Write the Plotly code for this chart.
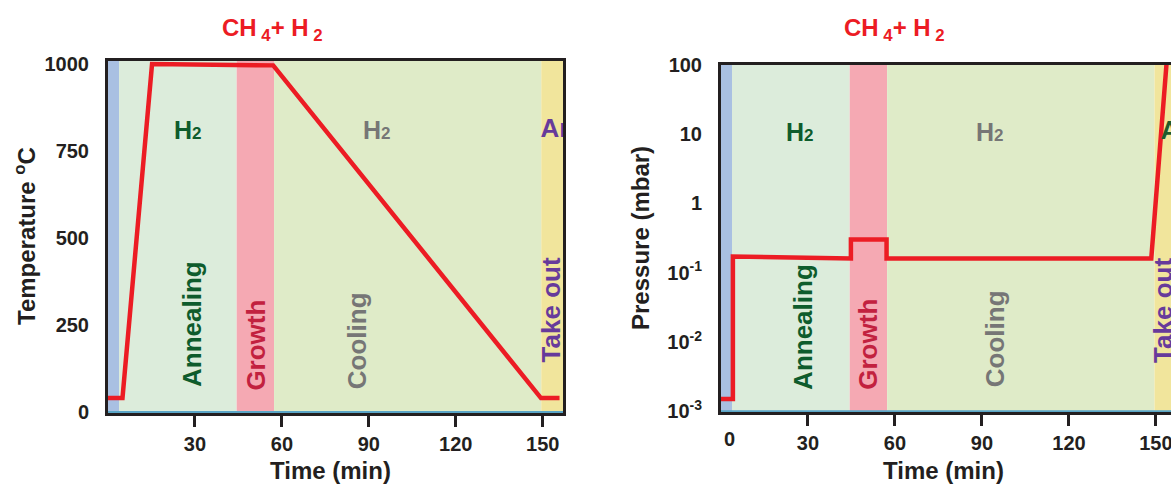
import plotly.graph_objects as go

W, H = 1171, 485

# Process phases (minutes) shared by both panels
phase_edges = [0, 3.8, 44.4, 57.3, 149.5, 170]
phase_fill = ["#a9c0e2", "#dcecdb", "#f5a9b3", "#dfebc8", "#f1e59c"]

phase_names = ["Annealing", "Growth", "Cooling", "Take out"]
phase_text_colors = ["#0e5c2c", "#c2213f", "#767676", "#673a9b"]

# Temperature program
temp_time = [0, 5, 15.2, 57, 149.4, 155.8]
temp_c = [40, 40, 1000, 996, 40, 40]

# Pressure program
pres_time = [0, 4.1, 4.1, 44.8, 44.8, 57.1, 57.1, 148.4, 154.2]
pres_mbar = [1.5e-3, 1.5e-3, 0.17, 0.16, 0.30, 0.30, 0.16, 0.16, 200]

time_ticks = [30, 60, 90, 120, 150]
temp_ticks = [0, 250, 500, 750, 1000]
temp_minor = [250, 500, 750]
pres_ticks = [100, 10, 1, 0.1, 0.01, 0.001]
pres_ticktext = ["100", "10", "1", "10<sup>-1</sup>", "10<sup>-2</sup>", "10<sup>-3</sup>"]
pres_minor = [10, 1, 0.1, 0.01]

# Label placement (time, value) for the phase names
temp_label_pos = [(29, 253), (51, 193), (86, 204), (153, 293)]
pres_label_pos = [(28, -1.78), (50.7, -2.04), (94.5, -1.96), (152.4, -1.54)]

# Gas atmosphere labels
gas_left = [("H", 27.6, 810, "#0e5c2c"), ("H", 92.8, 810, "#767676")]
gas_right = [("H", 27.2, 1.02, "#0e5c2c"), ("H", 92.8, 1.02, "#767676")]

FONT = "Liberation Sans, Arial, sans-serif"
INK = "#231f20"
RED = "#ec1c24"


def px_x(p):
    return p / W


def px_y(p):
    return 1 - p / H


fig = go.Figure()

fig.add_trace(go.Scatter(x=temp_time, y=temp_c, mode="lines",
                         line=dict(color=RED, width=4.5), xaxis="x", yaxis="y",
                         showlegend=False, hoverinfo="skip"))
fig.add_trace(go.Scatter(x=pres_time, y=pres_mbar, mode="lines",
                         line=dict(color=RED, width=4.5), xaxis="x2", yaxis="y2",
                         showlegend=False, hoverinfo="skip"))

# "Ar" labels sit at the panel edge and are clipped by the plot area
fig.add_trace(go.Scatter(x=[149.2], y=[808], mode="text", text=["Ar"],
                         textposition="middle right", cliponaxis=True,
                         textfont=dict(family=FONT, size=26, color="#673a9b", weight="bold"),
                         xaxis="x", yaxis="y", showlegend=False, hoverinfo="skip"))
fig.add_trace(go.Scatter(x=[151.6], y=[10.5], mode="text", text=["Ar"],
                         textposition="middle right", cliponaxis=True,
                         textfont=dict(family=FONT, size=26, color="#1f5a2a", weight="bold"),
                         xaxis="x2", yaxis="y2", showlegend=False, hoverinfo="skip"))

# Phase bands
for xr, yr in (("x", "y"), ("x2", "y2")):
    for i, c in enumerate(phase_fill):
        fig.add_shape(type="rect", xref=xr, yref=f"{yr} domain",
                      x0=phase_edges[i], x1=phase_edges[i + 1], y0=0, y1=1,
                      fillcolor=c, line=dict(width=0), layer="below")

# Cyan baseline on the pressure panel
fig.add_shape(type="line", xref="x2 domain", yref="y2", x0=0, x1=1,
              y0=pres_ticks[-1], y1=pres_ticks[-1],
              line=dict(color="#5aa5c6", width=2), layer="below")

ann = []
label_font = dict(family=FONT, size=26, weight="bold")
for (name, col), (tx, ty) in zip(zip(phase_names, phase_text_colors), temp_label_pos):
    ann.append(dict(x=tx, y=ty, xref="x", yref="y", text=name, textangle=-90,
                    xanchor="center", yanchor="middle",
                    showarrow=False, font=dict(label_font, color=col)))
for (name, col), (tx, ty) in zip(zip(phase_names, phase_text_colors), pres_label_pos):
    ann.append(dict(x=tx, y=ty, xref="x2", yref="y2", text=name, textangle=-90,
                    xanchor="center", yanchor="middle",
                    showarrow=False, font=dict(label_font, color=col)))
for g, tx, ty, col in gas_left:
    ann.append(dict(x=tx, y=ty, xref="x", yref="y", xanchor="center", yanchor="middle",
                    text=g + "<span style='font-size:17px'>2</span>", showarrow=False,
                    font=dict(family=FONT, size=25, color=col, weight="bold")))
for g, tx, ty, col in gas_right:
    ann.append(dict(x=tx, y=ty, xref="x2", yref="y2", xanchor="center", yanchor="middle",
                    text=g + "<span style='font-size:17px'>2</span>", showarrow=False,
                    font=dict(family=FONT, size=25, color=col, weight="bold")))

title_font = dict(family=FONT, size=24, color=RED, weight="bold")
for cx in (272, 894):
    ann.append(dict(x=px_x(cx), y=px_y(29), xref="paper", yref="paper",
                    xanchor="center", yanchor="middle",
                    text="CH<sub> 4</sub>+ H<sub> 2</sub>", showarrow=False, font=title_font))

axis_title_font = dict(family=FONT, size=24, color=INK, weight="bold")
ann.append(dict(x=px_x(25), y=px_y(236), xref="paper", yref="paper", textangle=-90,
                xanchor="center", yanchor="middle",
                text="Temperature <sup>o</sup>C", showarrow=False, font=axis_title_font))
ann.append(dict(x=px_x(640), y=px_y(238), xref="paper", yref="paper", textangle=-90,
                xanchor="center", yanchor="middle",
                text="Pressure (mbar)", showarrow=False, font=axis_title_font))
ann.append(dict(x=px_x(330), y=px_y(470), xref="paper", yref="paper",
                xanchor="center", yanchor="middle",
                text="Time (min)", showarrow=False, font=axis_title_font))
ann.append(dict(x=px_x(943), y=px_y(470), xref="paper", yref="paper",
                xanchor="center", yanchor="middle",
                text="Time (min)", showarrow=False, font=axis_title_font))
ann.append(dict(x=3, y=px_y(439), xref="x2", yref="paper", text="0", showarrow=False,
                xanchor="center", yanchor="middle",
                font=dict(family=FONT, size=20, color=INK, weight="bold")))

tick_font = dict(family=FONT, size=20, color=INK, weight="bold")
xdom_l = [px_x(108), px_x(563)]
xdom_r = [px_x(721), 1.0]
ydom_l = [px_y(413), px_y(60.5)]
ydom_r = [px_y(412), px_y(64.5)]
xr_l = [0, 157]
xr_r = [0, 155.2]
yr_l = [-3, 1010]
yr_r = [-3.01, 2]

common = dict(showgrid=False, zeroline=False, automargin=False)
hidden = dict(showgrid=False, zeroline=False, showline=False, showticklabels=False,
              automargin=False)

fig.update_layout(
    width=W, height=H, margin=dict(l=0, r=0, t=0, b=0),
    paper_bgcolor="white", plot_bgcolor="white",
    font=dict(family=FONT, color=INK),
    annotations=ann,
    # temperature panel
    xaxis=dict(domain=xdom_l, range=xr_l, anchor="y", showline=True, mirror=True,
               linecolor=INK, linewidth=3, ticks="outside", tickvals=time_ticks,
               ticklen=11, tickwidth=3, tickcolor=INK, tickfont=tick_font,
               ticklabeloverflow="allow", **common),
    yaxis=dict(domain=ydom_l, range=yr_l, anchor="x", showline=True, mirror=True,
               linecolor=INK, linewidth=3, ticks="outside", tickvals=temp_ticks,
               ticklen=12, tickwidth=3, tickcolor="rgba(0,0,0,0)", tickfont=tick_font,
               showgrid=False, zeroline=True, zerolinecolor="#5aa5c6", zerolinewidth=2,
               automargin=False),
    xaxis3=dict(overlaying="x", anchor="y", range=xr_l, ticks="inside",
                tickvals=time_ticks, ticklen=14, tickwidth=2, tickcolor="#6f8560", **hidden),
    yaxis3=dict(overlaying="y", anchor="x", side="left", range=yr_l, ticks="outside",
                tickvals=temp_minor, ticklen=12, tickwidth=3, tickcolor=INK, **hidden),
    yaxis4=dict(overlaying="y", anchor="x", side="left", range=yr_l, ticks="inside",
                tickvals=temp_minor, ticklen=14, tickwidth=2, tickcolor="#56708a", **hidden),
    # pressure panel
    xaxis2=dict(domain=xdom_r, range=xr_r, anchor="y2", showline=True, mirror=True,
                linecolor=INK, linewidth=3, ticks="outside", tickvals=time_ticks,
                ticklen=11, tickwidth=3, tickcolor=INK, tickfont=tick_font,
                ticklabeloverflow="allow", **common),
    yaxis2=dict(domain=ydom_r, type="log", range=yr_r, anchor="x2", showline=True,
                mirror=False, linecolor=INK, linewidth=3, ticks="outside",
                tickvals=pres_ticks, ticktext=pres_ticktext, ticklen=12, tickwidth=3,
                tickcolor="rgba(0,0,0,0)", tickfont=tick_font, **common),
    xaxis4=dict(overlaying="x2", anchor="y2", range=xr_r, ticks="inside",
                tickvals=time_ticks, ticklen=14, tickwidth=2, tickcolor="#6f8560", **hidden),
    yaxis5=dict(overlaying="y2", anchor="x2", side="left", type="log", range=yr_r,
                ticks="outside", tickvals=pres_minor, ticklen=12, tickwidth=3,
                tickcolor=INK, **hidden),
    yaxis6=dict(overlaying="y2", anchor="x2", side="left", type="log", range=yr_r,
                ticks="inside", tickvals=pres_minor, ticklen=14, tickwidth=2,
                tickcolor="#56708a", **hidden),
)

fig.write_html("out.html")
